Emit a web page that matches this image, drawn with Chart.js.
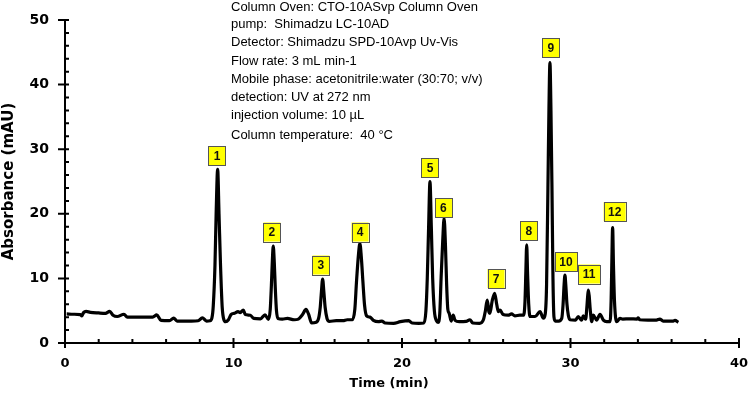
<!DOCTYPE html>
<html>
<head>
<meta charset="utf-8">
<script src="https://cdn.jsdelivr.net/npm/chart.js@4.4.1/dist/chart.umd.min.js"></script>
<style>
  html, body { margin: 0; padding: 0; background: #fff; }
  #wrap { width: 749px; height: 395px; position: relative; }
</style>
</head>
<body>
<div id="wrap"><canvas id="chromChart" width="749" height="395"></canvas></div>
<script>
// trace
const timeMin = [
  0.1, 0.5, 0.9, 1.0, 1.1, 1.25, 1.5, 2.0, 2.4, 2.65, 2.85, 3.1, 3.5, 3.7, 4.5, 5.2, 5.45, 5.7, 6.2, 6.45,
  6.65, 7.5, 7.9, 8.15, 8.4, 8.6, 8.72, 8.8, 8.9, 8.97, 9.06, 9.14, 9.23, 9.33, 9.43, 9.53, 9.7, 9.85, 10.05, 10.27,
  10.4, 10.58, 10.7, 11.0, 11.2, 11.6, 11.87, 12.07, 12.18, 12.25, 12.31, 12.36, 12.42, 12.48, 12.55, 12.64, 12.9, 13.2, 13.6, 13.85,
  14.1, 14.3, 14.45, 14.64, 14.9, 15.05, 15.15, 15.22, 15.29, 15.36, 15.44, 15.55, 15.69, 16.1, 16.5, 16.75, 17.05, 17.2, 17.3, 17.42,
  17.5, 17.58, 17.68, 17.78, 17.9, 18.1, 18.3, 18.6, 18.8, 19.0, 19.5, 19.9, 20.4, 20.6, 21.0, 21.3, 21.42, 21.5, 21.58, 21.66,
  21.74, 21.82, 21.92, 22.05, 22.14, 22.24, 22.32, 22.42, 22.5, 22.58, 22.65, 22.72, 22.8, 22.92, 23.04, 23.15, 23.4, 23.8, 24.03, 24.2,
  24.6, 24.83, 24.95, 25.06, 25.16, 25.22, 25.35, 25.5, 25.62, 25.72, 25.82, 26.0, 26.3, 26.5, 26.7, 27.0, 27.22, 27.3, 27.35, 27.4,
  27.45, 27.52, 27.6, 27.9, 28.19, 28.39, 28.5, 28.58, 28.66, 28.72, 28.78, 28.84, 28.9, 28.96, 29.02, 29.1, 29.3, 29.48, 29.56, 29.62,
  29.67, 29.72, 29.79, 29.87, 29.97, 30.3, 30.46, 30.66, 30.76, 30.9, 30.97, 31.02, 31.06, 31.11, 31.17, 31.26, 31.35, 31.55, 31.75, 31.95,
  32.15, 32.35, 32.41, 32.45, 32.5, 32.55, 32.61, 32.74, 32.94, 33.1, 33.5, 33.95, 34.02, 34.1, 34.6, 35.1, 35.3, 35.5, 36.1, 36.2,
  36.4
];
const absorbance = [
  4.5, 4.45, 4.4, 4.2, 4.7, 4.9, 4.75, 4.65, 4.6, 4.9, 4.3, 4.1, 4.45, 4.0, 4.0, 4.0, 4.35, 3.5, 3.45, 3.85,
  3.4, 3.4, 3.45, 3.9, 3.4, 3.45, 3.9, 5.8, 12, 20, 26.9, 20, 12, 5.5, 3.6, 3.3, 3.6, 4.4, 4.6, 4.85,
  4.7, 5.1, 4.4, 4.3, 3.8, 3.75, 4.35, 3.65, 5.2, 9, 13, 15.0, 12.5, 8.5, 5, 3.8, 3.7, 3.8, 3.6, 3.7,
  4.4, 5.2, 4.5, 3.1, 3.2, 3.8, 5.6, 8, 9.9, 8, 5.5, 3.8, 3.35, 3.45, 3.45, 3.6, 3.6, 5.2, 9.5, 13.8,
  15.4, 13.5, 9.5, 5.8, 4.2, 4.0, 3.5, 3.3, 3.4, 3.1, 3.05, 3.3, 3.45, 3.1, 3.05, 3.1, 5, 10, 18, 24.97,
  18, 10, 5, 3.4, 3.2, 4.5, 10, 16, 19.3, 15, 9, 5.2, 4.6, 3.4, 4.3, 3.5, 3.3, 3.35, 3.6, 3.1,
  3.05, 3.6, 5, 6.65, 4.8, 4.6, 6.5, 7.7, 6, 4.85, 5.1, 4.4, 4.3, 4.5, 4.2, 4.3, 4.3, 6.5, 11, 15.2,
  11, 6, 4.1, 4.1, 4.85, 3.85, 4.5, 9, 24, 36, 43.4, 36, 24, 10, 4, 3.4, 3.4, 3.8, 6, 9,
  10.5, 9, 6, 4.3, 3.6, 3.55, 4.1, 3.55, 4.2, 3.7, 5.5, 7.3, 8.2, 7.3, 5.2, 3.3, 4.3, 3.55, 4.45, 3.55,
  3.3, 3.3, 6.5, 12, 17.85, 12, 6.5, 3.3, 3.8, 3.7, 3.75, 3.7, 3.9, 3.6, 3.55, 3.55, 3.7, 3.4, 3.4, 3.5,
  3.2
];

// numbered peak boxes
const peakLabels = ["1", "2", "3", "4", "5", "6", "7", "8", "9", "10", "11", "12"];
const peakLabelX = [9.02, 12.28, 15.19, 17.51, 21.66, 22.46, 25.58, 27.52, 28.84, 29.73, 31.1, 32.62];
const peakLabelY = [28.95, 17.18, 12.07, 17.18, 27.17, 20.9, 9.98, 17.41, 45.7, 12.54, 10.68, 20.33];

// axis ticks
const xMajorTicks = [0, 10, 20, 30, 40];
const xMinorTicks = [2, 4, 6, 8, 12, 14, 16, 18, 22, 24, 26, 28, 32, 34, 36, 38];
const yMajorTicks = [0, 10, 20, 30, 40, 50];
const yMinorTicks = [2, 4, 6, 8, 12, 14, 16, 18, 22, 24, 26, 28, 32, 34, 36, 38, 42, 44, 46, 48];

const conditions = [
  "Column Oven: CTO-10ASvp Column Oven",
  "pump:  Shimadzu LC-10AD",
  "Detector: Shimadzu SPD-10Avp Uv-Vis",
  "Flow rate: 3 mL min-1",
  "Mobile phase: acetonitrile:water (30:70; v/v)",
  "detection: UV at 272 nm",
  "injection volume: 10 \u00b5L",
  "Column temperature:  40 \u00b0C"
];
const conditionsY = [7, 24, 42, 61, 79, 97, 115, 135];

const extras = {
  id: "extras",
  afterDraw(chart) {
    const ctx = chart.ctx;
    const xs = chart.scales.x;
    const ys = chart.scales.y;
    const x0 = xs.getPixelForValue(0);
    const y0 = ys.getPixelForValue(0);

    ctx.save();
    ctx.strokeStyle = "#000";
    ctx.lineWidth = 2;
    ctx.beginPath();
    xMajorTicks.forEach(v => {
      const px = xs.getPixelForValue(v);
      ctx.moveTo(px, y0 - 5);
      ctx.lineTo(px, y0 + 5);
    });
    xMinorTicks.forEach(v => {
      const px = xs.getPixelForValue(v);
      ctx.moveTo(px, y0 - 4);
      ctx.lineTo(px, y0);
    });
    yMajorTicks.forEach(v => {
      const py = ys.getPixelForValue(v);
      ctx.moveTo(x0 - 7, py);
      ctx.lineTo(x0 + 4, py);
    });
    yMinorTicks.forEach(v => {
      const py = ys.getPixelForValue(v);
      ctx.moveTo(x0, py);
      ctx.lineTo(x0 + 4, py);
    });
    ctx.stroke();

    // peak boxes
    ctx.font = "bold 12px 'Liberation Sans', Arial, sans-serif";
    ctx.textAlign = "center";
    ctx.textBaseline = "middle";
    peakLabels.forEach((t, i) => {
      const px = xs.getPixelForValue(peakLabelX[i]);
      const py = ys.getPixelForValue(peakLabelY[i]);
      const w = t.length > 1 ? 22 : 17;
      const h = 19;
      ctx.fillStyle = "#ffff00";
      ctx.fillRect(px - w / 2, py - h / 2, w, h);
      ctx.strokeStyle = "#555";
      ctx.lineWidth = 1;
      ctx.strokeRect(Math.round(px - w / 2) + 0.5, Math.round(py - h / 2) + 0.5, w, h);
      ctx.fillStyle = "#111";
      ctx.fillText(t, px, py + 1);
    });

    // instrument conditions
    ctx.font = "13px 'Liberation Sans', Arial, sans-serif";
    ctx.textAlign = "left";
    ctx.fillStyle = "#000";
    conditions.forEach((t, i) => {
      ctx.fillText(t, 231, conditionsY[i]);
    });

    // x axis title
    ctx.font = "bold 13px 'DejaVu Sans', sans-serif";
    ctx.textAlign = "center";
    ctx.fillText("Time (min)", 389, 384);
    ctx.restore();
  }
};

const ctx = document.getElementById("chromChart").getContext("2d");
const chart = new Chart(ctx, {
  type: "line",
  data: {
    datasets: [{
      data: timeMin.map((t, i) => ({ x: t, y: absorbance[i] })),
      borderColor: "#000",
      borderWidth: 3.2,
      pointRadius: 0,
      fill: false,
      cubicInterpolationMode: "monotone"
    }]
  },
  options: {
    responsive: false,
    animation: false,
    layout: { padding: { top: 20, right: 10, left: 0, bottom: 0 } },
    plugins: {
      legend: { display: false },
      tooltip: { enabled: false }
    },
    scales: {
      x: {
        type: "linear",
        min: 0,
        max: 40,
        afterBuildTicks: scale => { scale.ticks = xMajorTicks.map(v => ({ value: v })); },
        afterFit: scale => { scale.height = 52; scale.paddingLeft = 0; scale.paddingRight = 0; },
        grid: { display: true, drawOnChartArea: false, drawTicks: false },
        border: { display: true, color: "#000", width: 2 },
        ticks: { color: "#000", font: { family: "DejaVu Sans", size: 13, weight: "bold" }, padding: 13, maxRotation: 0 }
      },
      y: {
        type: "linear",
        min: 0,
        max: 50,
        afterBuildTicks: scale => { scale.ticks = yMajorTicks.map(v => ({ value: v })); },
        afterFit: scale => { scale.width = 65; scale.paddingTop = 0; scale.paddingBottom = 0; },
        grid: { display: true, drawOnChartArea: false, drawTicks: false },
        border: { display: true, color: "#000", width: 2 },
        ticks: { color: "#000", font: { family: "DejaVu Sans", size: 14, weight: "bold" }, padding: 16 },
        title: {
          display: true,
          text: "Absorbance (mAU)",
          color: "#000",
          font: { family: "DejaVu Sans", size: 15, weight: "bold" },
          padding: { top: 0, bottom: 0 }
        }
      }
    }
  },
  plugins: [extras]
});
</script>
</body>
</html>
